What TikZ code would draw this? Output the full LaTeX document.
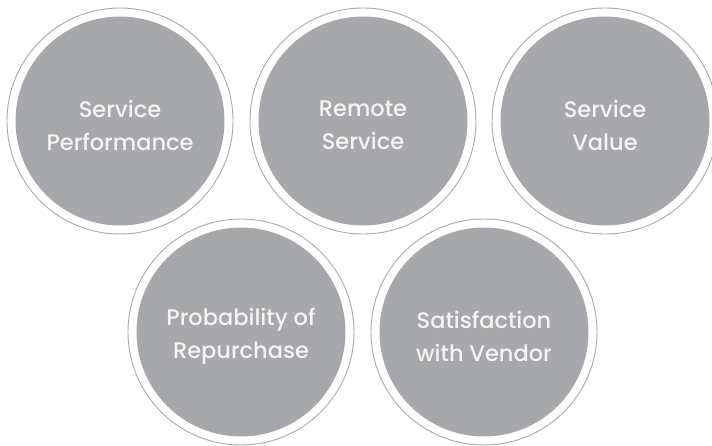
\documentclass[tikz,border=0pt]{standalone}
\usepackage{fontspec}
\setmainfont{Poppins Medium}
\definecolor{discgray}{HTML}{A7A8AB}
\definecolor{ringgray}{HTML}{A9AAAD}
\definecolor{txt}{HTML}{F4F4F4}
\begin{document}
\begin{tikzpicture}[x=1pt,y=-1pt,
  ring/.style={circle,draw=ringgray,line width=0.9pt,minimum size=226pt,inner sep=0pt},
  disc/.style={circle,fill=discgray,minimum size=209pt,inner sep=0pt},
  lbl/.style={text=txt,font=\fontsize{22.5}{33}\selectfont,align=center}]
\useasboundingbox (0,0) rectangle (712,446);
\node[ring] (r1) at (120,121) {};
\node[disc] (d1) at (r1.center) {};
\node[lbl] (sp) at ([yshift=-4pt]d1.center) {Service\\Performance};
\node[ring] (r2) at (363,121) {};
\node[disc] (d2) at (r2.center) {};
\node[lbl] (rs) at ([yshift=-4pt]d2.center) {Remote\\Service};
\node[ring] (r3) at (605,121) {};
\node[disc] (d3) at (r3.center) {};
\node[lbl] (sv) at ([yshift=-4pt]d3.center) {Service\\Value};
\node[ring] (r4) at (241,332) {};
\node[disc] (d4) at (r4.center) {};
\node[lbl] (pr) at ([yshift=-4pt]d4.center) {Probability of\\Repurchase};
\node[ring] (r5) at (484,332) {};
\node[disc] (d5) at (r5.center) {};
\node[lbl] (sw) at ([yshift=-4pt]d5.center) {Satisfaction\\with Vendor};
\end{tikzpicture}
\end{document}
